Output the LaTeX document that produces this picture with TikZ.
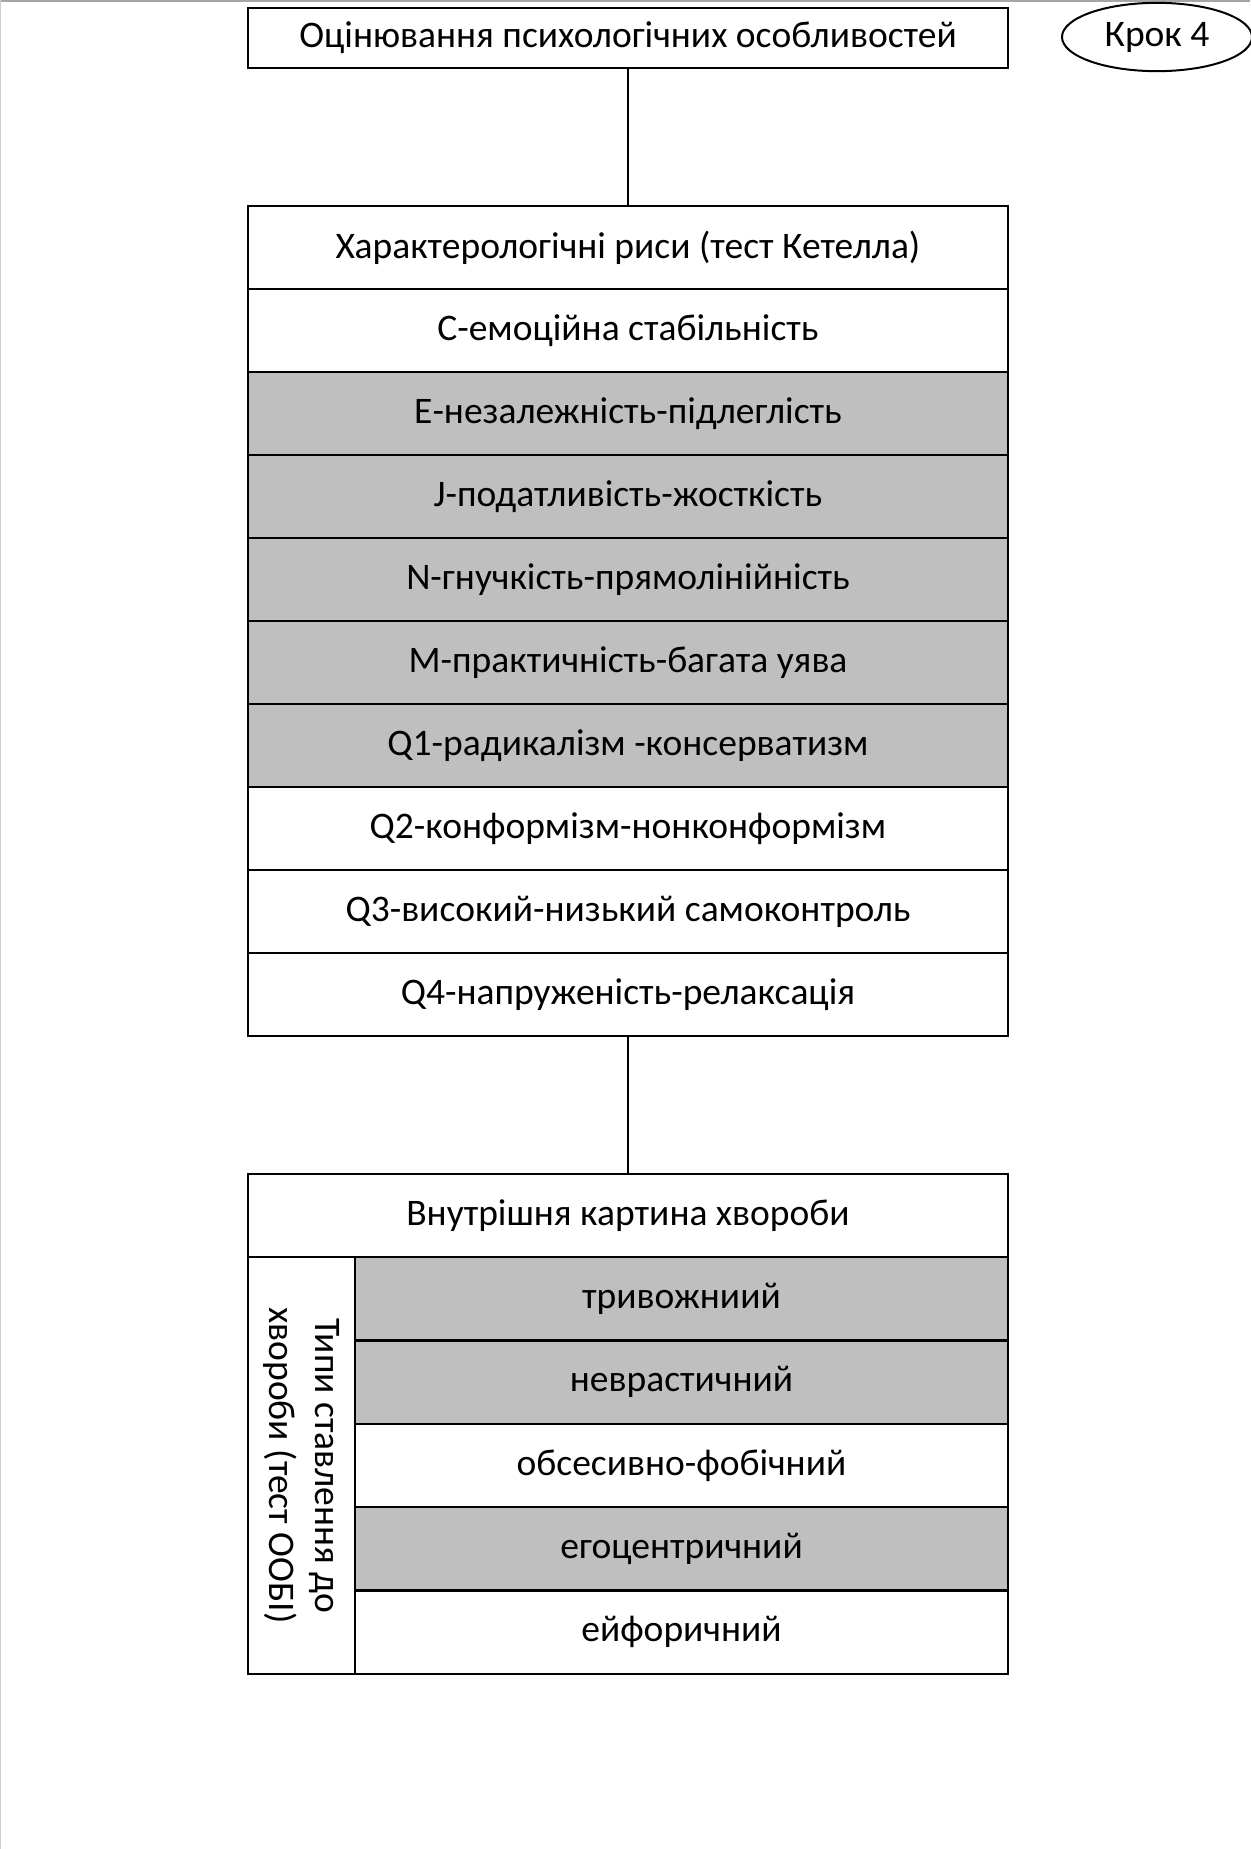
\documentclass[tikz,border=0pt]{standalone}
\usepackage{fontspec}
\setmainfont{Carlito}
\usetikzlibrary{shapes.geometric}
\definecolor{cellgray}{RGB}{191,191,191}
\begin{document}
\begin{tikzpicture}[x=0.6pt,y=-0.6pt,
  cell/.style={draw=black, line width=1.5pt, rectangle, inner sep=0pt,
    minimum width=456pt, minimum height=49.8pt, font=\fontsize{22.5}{27}\selectfont},
  gcell/.style={cell, fill=cellgray},
  scell/.style={cell, minimum width=391.8pt, minimum height=50.04pt},
  sgcell/.style={scell, fill=cellgray},
  link/.style={draw=black, line width=0.7pt}]
\useasboundingbox (0,0) rectangle (1250,1849);
\draw[gray!70, line width=1.5pt] (0,1) -- (1250,1);
\draw[gray!40, line width=0.8pt] (0.5,0) -- (0.5,1849);

\node[cell, minimum height=36pt] (top) at (628,38) {Оцінювання психологічних особливостей};
\node[draw=black, line width=1.2pt, ellipse, minimum width=114pt, minimum height=41pt,
  inner sep=0pt, font=\fontsize{22.5}{27}\selectfont] (step4) at (1157,37) {Крок 4};

\node[cell]  (h1)  at (628,247.5) {Характерологічні риси (тест Кетелла)};
\node[cell]  (r1)  at (628,330.5) {С-емоційна стабільність};
\node[gcell] (r2)  at (628,413.5) {Е-незалежність-підлеглість};
\node[gcell] (r3)  at (628,496.5) {J-податливість-жосткість};
\node[gcell] (r4)  at (628,579.5) {N-гнучкість-прямолінійність};
\node[gcell] (r5)  at (628,662.5) {М-практичність-багата уява};
\node[gcell] (r6)  at (628,745.5) {Q1-радикалізм -консерватизм};
\node[cell]  (r7)  at (628,828.5) {Q2-конформізм-нонконформізм};
\node[cell]  (r8)  at (628,911.5) {Q3-високий-низький самоконтроль};
\node[cell]  (r9)  at (628,994.5) {Q4-напруженість-релаксація};

\node[cell]  (h2)  at (628,1215.5) {Внутрішня картина хвороби};
\node[draw=black, line width=1.5pt, rectangle, inner sep=0pt,
  minimum width=64.2pt, minimum height=250.2pt] (lab) at (301.5,1465.5) {};
\node[rotate=-90, align=center, font=\fontsize{22.5}{27.5}\selectfont] (labt) at (lab.center)
  {Типи ставлення до\\хвороби (тест ООБІ)};
\node[sgcell] (t1) at (681.5,1298.7) {тривожниий};
\node[sgcell] (t2) at (681.5,1382.1) {неврастичний};
\node[scell]  (t3) at (681.5,1465.5) {обсесивно-фобічний};
\node[sgcell] (t4) at (681.5,1548.9) {егоцентричний};
\node[scell]  (t5) at (681.5,1632.3) {ейфоричний};

\draw[link] (top.south) -- (h1.north);
\draw[link] (r9.south) -- (h2.north);
\end{tikzpicture}
\end{document}
